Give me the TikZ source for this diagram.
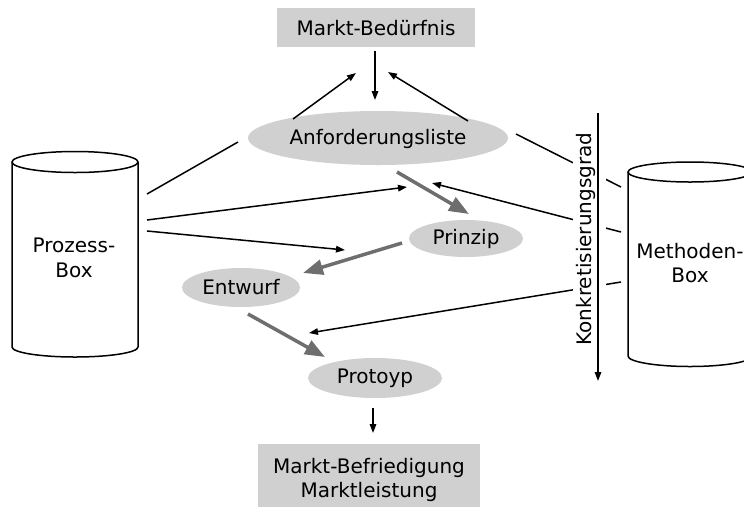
\documentclass[tikz,border=0pt]{standalone}
\usepackage{fontspec}
\setmainfont{DejaVu Sans}
\usetikzlibrary{arrows.meta,shapes.geometric}
\definecolor{boxgray}{RGB}{208,208,208}
\definecolor{arrgray}{RGB}{110,110,110}
\begin{document}
\begin{tikzpicture}[x=1pt,y=-1pt,
  every node/.style={font=\fontsize{20}{24.5}\selectfont},
  rectbox/.style={fill=boxgray, inner sep=0pt},
  ellbox/.style={ellipse, fill=boxgray, inner sep=0pt},
  thinline/.style={line width=1.5pt},
  thinarrow/.style={line width=1.5pt, -{Triangle[length=9pt,width=6.5pt]}},
  grayarrow/.style={line width=3.5pt, draw=arrgray, -{Triangle[length=20pt,width=15pt]}},
  cyl/.style={line width=1.5pt}]
\useasboundingbox (0,0) rectangle (744,507);
\clip (0,0) rectangle (744,507);

% main nodes
\node[rectbox, minimum width=198pt, minimum height=39pt] (md) at (376,27.5) {\rule{0pt}{17pt}Markt-Bedürfnis};
\node[ellbox, minimum width=260pt, minimum height=54pt] (anf) at (378,138) {\rule{0pt}{18pt}Anforderungsliste};
\node[ellbox, minimum width=114pt, minimum height=37pt] (pri) at (466,238.5) {Prinzip};
\node[ellbox, minimum width=118pt, minimum height=39pt] (ent) at (241,287.5) {Entwurf};
\node[ellbox, minimum width=134pt, minimum height=40pt] (pro) at (375,378) {Protoyp};
\node[rectbox, minimum width=222pt, minimum height=63pt, align=center] (mb) at (369,475) {\rule{0pt}{25pt}Markt-Befriedigung\\Marktleistung};

% cylinders
\draw[cyl] (12,162) -- (12,347) arc[start angle=180, end angle=360, x radius=63pt, y radius=10pt] -- (138,162);
\draw[cyl] (75,162) ellipse[x radius=63pt, y radius=10.5pt];
\node[align=center] (pbox) at (74,258) {Prozess-\\Box};

\draw[cyl] (628,172) -- (628,356) arc[start angle=180, end angle=360, x radius=62pt, y radius=10.5pt] -- (752,172);
\draw[cyl] (690,172) ellipse[x radius=62pt, y radius=10pt];
\node[align=center] (mbox) at (690,263) {Methoden-\\Box};

% connector end points
\coordinate (mdA) at (375,51);   \coordinate (anfT) at (375,100);
\coordinate (a1s) at (293,119);  \coordinate (a1t) at (356,73);
\coordinate (a2s) at (468,121);  \coordinate (a2t) at (388,72);
\coordinate (p1s) at (147,194);  \coordinate (p1t) at (238,142);
\coordinate (p2s) at (147,220);  \coordinate (p2t) at (407,187);
\coordinate (p3s) at (147,231);  \coordinate (p3t) at (345,250);
\coordinate (m1s) at (621,187);  \coordinate (m1t) at (516,134);
\coordinate (m2s) at (621,232);  \coordinate (m2t) at (432,183);
\coordinate (m3s) at (621,282);  \coordinate (m3t) at (309,333);
\coordinate (g1s) at (397,172);  \coordinate (g1t) at (469,214);
\coordinate (g2s) at (402,243);  \coordinate (g2t) at (303,273);
\coordinate (g3s) at (248,314);  \coordinate (g3t) at (325,357);
\coordinate (proB) at (373,408); \coordinate (mbT) at (373,433);
\coordinate (axtop) at (598,113); \coordinate (axbot) at (598,381);

% black connectors
\draw[thinarrow] (mdA) -- (anfT);
\draw[thinarrow] (a1s) -- (a1t);
\draw[thinarrow] (a2s) -- (a2t);
\draw[thinline] (p1s) -- (p1t);
\draw[thinarrow] (p2s) -- (p2t);
\draw[thinarrow] (p3s) -- (p3t);
\draw[thinline] (m1s) -- (m1t);
\draw[thinarrow] (m2s) -- (m2t);
\draw[thinarrow] (m3s) -- (m3t);
\draw[thinarrow] (proB) -- (mbT);

% gray flow arrows
\draw[grayarrow] (g1s) -- (g1t);
\draw[grayarrow] (g2s) -- (g2t);
\draw[grayarrow] (g3s) -- (g3t);

% axis
\node[rotate=90, fill=white, inner sep=4pt, text height=15pt, text depth=10pt] (kg) at (589,239) {Konkretisierungsgrad};
\draw[thinarrow] (axtop) -- (axbot);
\end{tikzpicture}
\end{document}
